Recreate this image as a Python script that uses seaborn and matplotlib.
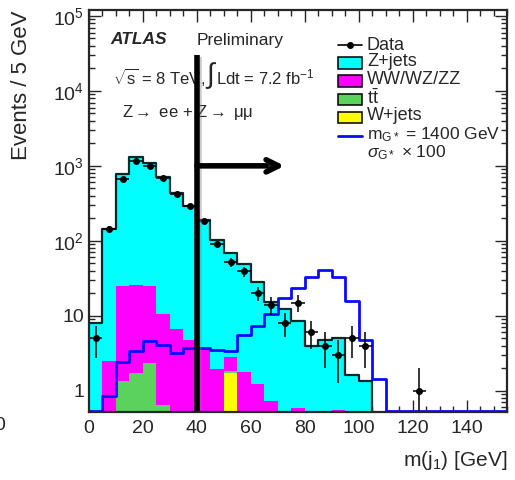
#!/usr/bin/env python3
"""ATLAS preliminary: leading jet mass in Z+jets events with a G* (1400 GeV) signal overlay."""

import numpy as np
import pandas as pd
import matplotlib
matplotlib.use("Agg")
import matplotlib.pyplot as plt
import matplotlib.patheffects as pe
from matplotlib.patches import Rectangle
from matplotlib.lines import Line2D
from matplotlib.ticker import MultipleLocator, LogLocator, FuncFormatter, NullFormatter
import seaborn as sns

# 5 GeV bins, 0 - 155 GeV (31 bins)
bin_edges = np.arange(0, 156, 5)
bin_centers = bin_edges[:-1] + 2.5

# background components (events / 5 GeV)
z_jets = [7.7, 142, 755, 1284, 1065, 694, 434, 290, 184, 102,
          65, 48, 27, 14.3, 12, 8, 3.5, 4.3, 4.5, 1.1,
          1.04, 0, 0, 0, 0, 0, 0, 0, 0, 0, 0]
diboson = [0.3, 2.5, 23.7, 24.3, 22.6, 9.95, 6.6, 4.8, 3.66, 1.96,
           0.94, 1.77, 1.23, 0.73, 0.3, 0.58, 0.4, 0.4, 0.56, 0.54,
           0.3, 0, 0, 0, 0, 0, 0, 0, 0, 0, 0]
ttbar = [0, 0, 1.34, 1.71, 2.37, 0.65, 0, 0, 0, 0,
         0.15, 0, 0, 0, 0, 0, 0, 0, 0, 0,
         0, 0, 0, 0, 0, 0, 0, 0, 0, 0, 0]
w_jets = [0, 0, 0, 0, 0, 0, 0, 0, 0, 0,
          1.71, 0, 0, 0, 0, 0, 0, 0, 0, 0,
          0, 0, 0, 0, 0, 0, 0, 0, 0, 0, 0]

data = [5, 145, 674, 1170, 990, 690, 427, 295, 182, 91,
        52, 39, 20, 14, 8, 15, 6, 4, 3, 5,
        4, 0, 0, 0, 1, 0, 0, 0, 0, 0, 0]

# m_G* = 1400 GeV, cross section x 100
signal = [0, 0.86, 2.4, 3.37, 4.6, 4.05, 3.2, 3.7, 3.66, 3.47,
          3.4, 5.5, 7.3, 10.6, 17.4, 23.7, 33, 41, 33, 15.9,
          4.8, 1.44, 0, 0, 0, 0, 0, 0, 0, 0, 0]

processes = ["Z+jets", "WW/WZ/ZZ", "ttbar", "W+jets"]
colors = {"Z+jets": "#00ffff", "WW/WZ/ZZ": "#ff00ff", "ttbar": "#5bd25b", "W+jets": "#ffff00"}
y_min, y_max = 0.52, 1.2e5
hist_kw = dict(binwidth=5, binrange=(0, 155), element="step")

sns.set_style("ticks")
plt.rcParams["font.family"] = ["Liberation Sans", "DejaVu Sans"]
plt.rcParams["mathtext.fontset"] = "custom"
plt.rcParams["mathtext.rm"] = "Liberation Sans"
plt.rcParams["mathtext.it"] = "Liberation Sans:italic"
plt.rcParams["mathtext.bf"] = "Liberation Sans:bold"

fig = plt.figure(figsize=(5.15, 4.8), dpi=100)
L, R, T, B = 89, 507, 10, 412
ax = fig.add_axes([L / 515, 1 - B / 480, (R - L) / 515, (B - T) / 480])
ax.set_yscale("log")


def px(x, y):
    """pixel position in the figure -> axes fraction"""
    return (x - L) / (R - L), (B - y) / (B - T)


stack_df = pd.DataFrame({
    "m": np.tile(bin_centers, 4),
    "events": np.concatenate([z_jets, diboson, ttbar, w_jets]),
    "process": np.repeat(processes, len(bin_centers)),
})
sns.histplot(data=stack_df, x="m", weights="events", hue="process", hue_order=processes,
             multiple="stack", fill=True, alpha=1, linewidth=0, palette=colors,
             legend=False, ax=ax, zorder=1, **hist_kw)

total = np.sum([z_jets, diboson, ttbar, w_jets], axis=0)
sns.histplot(x=bin_centers, weights=total, fill=False, color="#0a2a2a", linewidth=1.6,
             ax=ax, zorder=2, **hist_kw)

# empty signal bins sit on the lower edge, like ROOT draws them
sig_draw = np.maximum(signal, y_min * 1.03)
sns.histplot(x=bin_centers, weights=sig_draw, fill=False, color="#0a0aff", linewidth=2.0,
             ax=ax, zorder=3, **hist_kw)

data = np.array(data, dtype=float)
has = data > 0
err = np.sqrt(data[has])
ax.errorbar(bin_centers[has], data[has], xerr=2.5, yerr=[err, err], fmt="o", ms=4,
            color="black", elinewidth=1.1, capsize=0, zorder=5)

# cut at 40 GeV with arrow
shadow = [pe.SimpleLineShadow(offset=(1.5, -1.5), shadow_color="gray", alpha=0.4), pe.Normal()]
ax.plot([40, 40], [y_min, 3.0e4], color="black", lw=4, solid_capstyle="butt",
        zorder=6, path_effects=shadow)
ax.annotate("", xy=(72.5, 1000), xytext=(40, 1000),
            arrowprops=dict(arrowstyle="->", lw=4, color="black", mutation_scale=22,
                            shrinkA=0, shrinkB=0,
                            path_effects=[pe.SimplePatchShadow(offset=(1.5, -1.5), alpha=0.4),
                                          pe.Normal()]),
            zorder=6)

ax.set_xlim(0, 155)
ax.set_ylim(y_min, y_max)
ax.set_xlabel("")
ax.set_ylabel("")

ax.xaxis.set_major_locator(MultipleLocator(20))
ax.xaxis.set_minor_locator(MultipleLocator(5))
ax.yaxis.set_major_locator(LogLocator(base=10, numticks=10))
ax.yaxis.set_minor_locator(LogLocator(base=10, subs=np.arange(2, 10), numticks=20))
ax.yaxis.set_minor_formatter(NullFormatter())


def log_label(v, pos):
    n = int(round(np.log10(v)))
    if n == 0:
        return "1"
    if n == 1:
        return "10"
    return r"10$^{%d}$" % n


ax.yaxis.set_major_formatter(FuncFormatter(log_label))
ax.tick_params(which="both", direction="in", top=True, right=True, width=1, labelsize=14)
ax.tick_params(which="major", length=8.5)
ax.tick_params(which="minor", length=4.3)
ax.tick_params(axis="x", pad=6)
for s in ax.spines.values():
    s.set_linewidth(1.6)
    s.set_zorder(7)

fig.text(22 / 515, 1 - 10 / 480, "Events / 5 GeV", rotation=90, ha="center", va="top", fontsize=16)
fig.text(507 / 515, 1 - 461 / 480, r"m(j$_1$) [GeV]", ha="right", va="center", fontsize=15)
fig.text(0, 1 - 425 / 480, "0", ha="center", va="center", fontsize=14)

# labels
ax.text(*px(110, 40), "ATLAS", transform=ax.transAxes, fontsize=12.5, fontweight="bold",
        style="italic", va="center")
ax.text(*px(197, 40), "Preliminary", transform=ax.transAxes, fontsize=12.5, va="center")
ax.text(*px(113, 77), r"$\sqrt{\mathrm{s}}$ = 8 TeV,", transform=ax.transAxes, fontsize=12, va="center")
ax.text(*px(205, 76), r"$\int$", transform=ax.transAxes, fontsize=20, va="center")
ax.text(*px(216, 77), r"Ldt = 7.2 fb$^{-1}$", transform=ax.transAxes, fontsize=12, va="center")
ax.text(*px(122, 112), r"Z$\rightarrow$ ee + Z$\rightarrow$ $\mathrm{\mu\mu}$", transform=ax.transAxes,
        fontsize=12, va="center")

# legend, drawn by hand to keep the tight ROOT spacing
hx0, hx1, tx = 338, 362, 367
ax.add_line(Line2D([px(hx0, 0)[0], px(hx1, 0)[0]], [px(0, 45)[1]] * 2, color="black", lw=1.2,
                   transform=ax.transAxes))
ax.plot(*px(350, 45), "o", ms=4, color="black", transform=ax.transAxes)
ax.text(*px(tx, 45), "Data", transform=ax.transAxes, fontsize=13, va="center")
labels = {"Z+jets": "Z+jets", "WW/WZ/ZZ": "WW/WZ/ZZ", "ttbar": r"$\mathrm{t\bar{t}}$", "W+jets": "W+jets"}
for name, yc in zip(processes, [63, 81, 99, 117]):
    x0, y0 = px(hx0, yc + 5.5)
    x1, y1 = px(hx1, yc - 5.5)
    ax.add_patch(Rectangle((x0, y0), x1 - x0, y1 - y0, transform=ax.transAxes,
                           facecolor=colors[name], edgecolor="black", lw=1.1, zorder=8))
    ax.text(*px(tx, yc - 1), labels[name], transform=ax.transAxes, fontsize=13, va="center")
ax.add_line(Line2D([px(hx0, 0)[0], px(hx1, 0)[0]], [px(0, 136)[1]] * 2, color="#0a0aff", lw=2,
                   transform=ax.transAxes))
ax.text(*px(tx, 135), r"m$_{\mathrm{G*}}$ = 1400 GeV", transform=ax.transAxes, fontsize=12.5,
        va="center")
ax.text(*px(tx, 153), r"$\sigma_{\mathrm{G*}}$ × 100", transform=ax.transAxes, fontsize=12.5,
        va="center")

fig.savefig("out.png", dpi=100)
print("saved out.png")
